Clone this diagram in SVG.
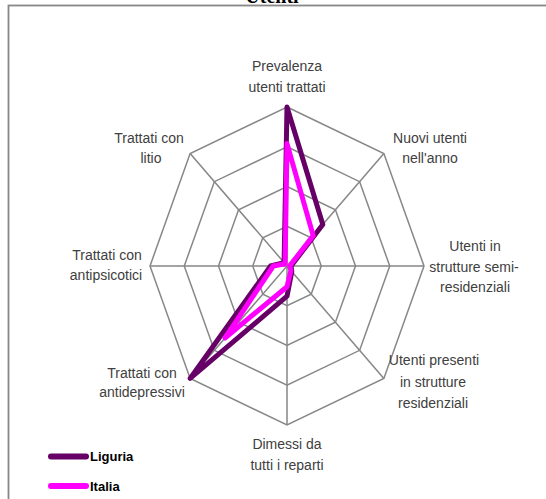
<svg xmlns="http://www.w3.org/2000/svg" width="546" height="499" viewBox="0 0 546 499">
<style>
.lbl{font-family:"Liberation Sans",Arial,sans-serif;font-size:14px;fill:#404040;text-anchor:middle}
.grid{fill:none;stroke:#878787;stroke-width:1.5}
.ser{fill:none;stroke-width:5;stroke-linejoin:round;stroke-linecap:round}
.leg{font-family:"Liberation Sans",Arial,sans-serif;font-size:13px;font-weight:bold;fill:#000}
</style>
<rect width="546" height="499" fill="#fff"/>
<text x="272" y="2.5" font-family="'Liberation Serif',serif" font-weight="bold" font-size="20" text-anchor="middle">Utenti</text>
<rect x="8.5" y="5.5" width="545" height="500" fill="none" stroke="#878787" stroke-width="1.8"/>
<g id="grid">
<polygon class="grid" points="287,107 383.87,153.57 424,266 383.87,378.43 287,425 190.13,378.43 150,266 190.13,153.57"/>
<polygon class="grid" points="287,146.75 359.65,181.68 389.75,266 359.65,350.32 287,385.25 214.35,350.32 184.25,266 214.35,181.68"/>
<polygon class="grid" points="287,186.5 335.43,209.79 355.5,266 335.43,322.21 287,345.5 238.57,322.21 218.5,266 238.57,209.79"/>
<polygon class="grid" points="287,226.25 311.22,237.89 321.25,266 311.22,294.11 287,305.75 262.78,294.11 252.75,266 262.78,237.89"/>
<path class="grid" d="M287,107V425M150,266H424M190.13,153.57L383.87,378.43M383.87,153.57L190.13,378.43"/>
</g>
<g id="series">
<polygon id="liguria" class="ser" stroke="#660066" points="287,107 322.8,224.4 291.1,266 291.8,271.6 287,296.2 190.13,378.43 270.6,266 284.1,262.6"/>
<polygon id="italia" class="ser" stroke="#FF00FF" points="287,143.6 313.2,235.6 289.7,266 290.9,270.5 287,286.7 225,338 273.3,266 285.1,263.8"/>
</g>
<g id="labels">
<text class="lbl" x="287" y="71">Prevalenza</text>
<text class="lbl" x="287" y="92">utenti trattati</text>
<text class="lbl" x="430" y="143">Nuovi utenti</text>
<text class="lbl" x="430" y="163">nell'anno</text>
<text class="lbl" x="475" y="251">Utenti in</text>
<text class="lbl" x="474" y="272">strutture semi-</text>
<text class="lbl" x="475" y="292">residenziali</text>
<text class="lbl" x="434" y="365">Utenti presenti</text>
<text class="lbl" x="433" y="387">in strutture</text>
<text class="lbl" x="433" y="408">residenziali</text>
<text class="lbl" x="287" y="449">Dimessi da</text>
<text class="lbl" x="287" y="470">tutti i reparti</text>
<text class="lbl" x="149" y="143">Trattati con</text>
<text class="lbl" x="151" y="163">litio</text>
<text class="lbl" x="107" y="260">Trattati con</text>
<text class="lbl" x="106" y="280">antipsicotici</text>
<text class="lbl" x="142" y="378">Trattati con</text>
<text class="lbl" x="142" y="397">antidepressivi</text>
</g>
<g id="legend">
<line x1="51" y1="456.5" x2="86" y2="456.5" stroke="#660066" stroke-width="6" stroke-linecap="round"/>
<text class="leg" x="90" y="461">Liguria</text>
<line x1="51" y1="486" x2="86" y2="486" stroke="#FF00FF" stroke-width="6" stroke-linecap="round"/>
<text class="leg" x="90" y="490.5">Italia</text>
</g>
</svg>
